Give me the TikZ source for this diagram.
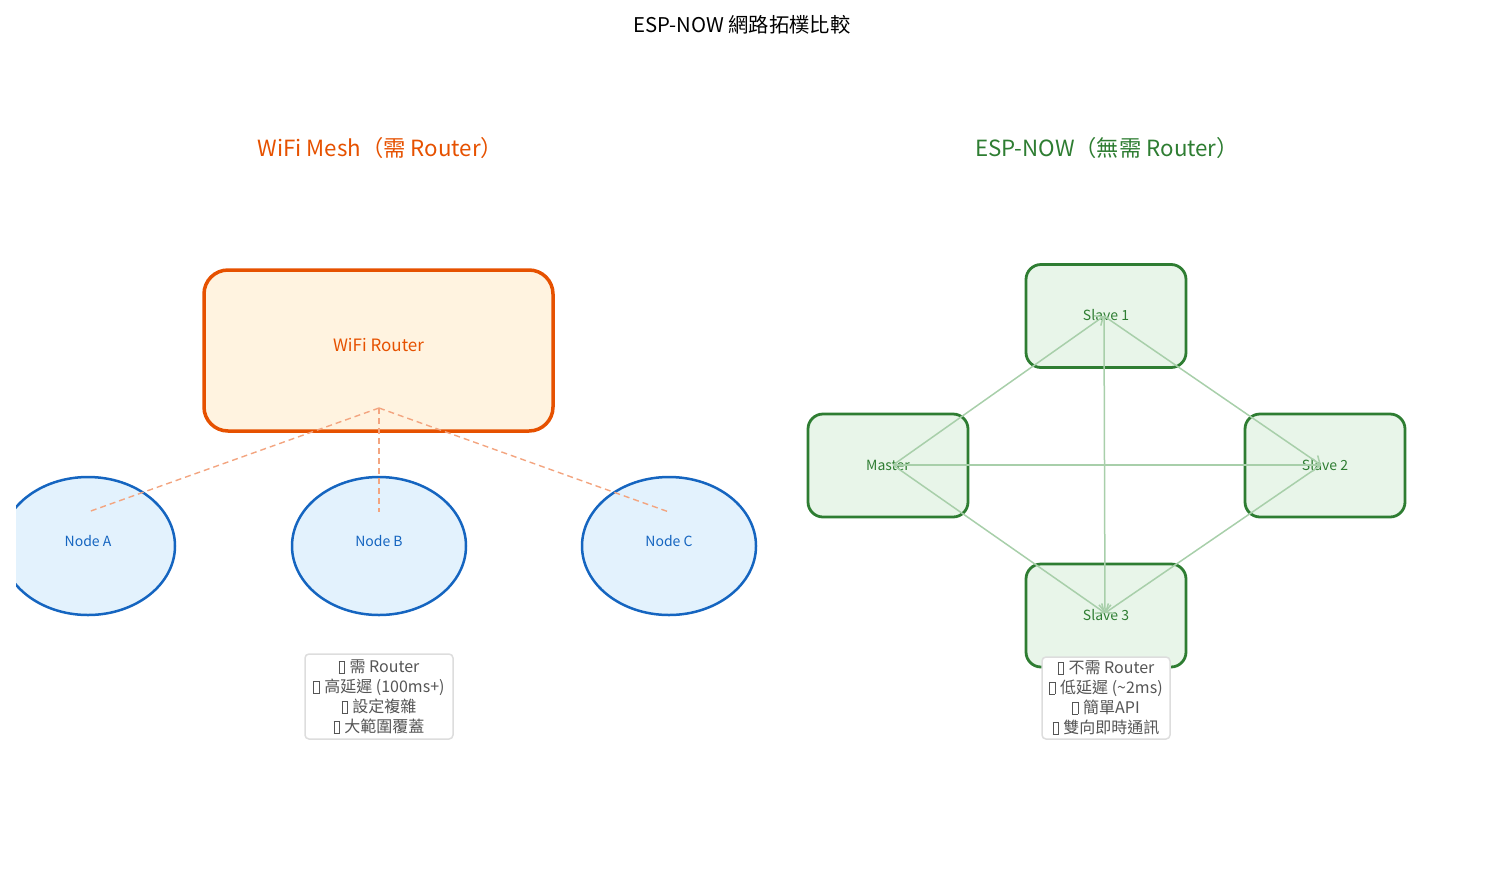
\documentclass[tikz,border=0pt]{standalone}
\usepackage{fontspec}
\setmainfont{Noto Sans CJK TC}
\usetikzlibrary{arrows.meta,shapes.geometric}
\definecolor{orangeD}{HTML}{E65100}
\definecolor{orangeF}{HTML}{FFF3E0}
\definecolor{orangeL}{HTML}{F3A580}
\definecolor{blueD}{HTML}{1565C0}
\definecolor{blueF}{HTML}{E3F2FD}
\definecolor{greenD}{HTML}{2E7D32}
\definecolor{greenF}{HTML}{E8F5E9}
\definecolor{greenL}{HTML}{A8CFAA}
\definecolor{grayT}{HTML}{555555}
\definecolor{grayB}{HTML}{DDDDDD}
\newcommand{\tofu}{{\setlength\fboxsep{0pt}\setlength\fboxrule{0.5pt}\fbox{\rule{0pt}{0.72em}\hspace{0.32em}}}\hspace{0.3em}}
\tikzset{
  routerbox/.style={draw=orangeD, fill=orangeF, line width=3.5pt, rounded corners=24pt},
  nodeell/.style={draw=blueD, fill=blueF, line width=2.5pt, ellipse, inner sep=0pt},
  espbox/.style={draw=greenD, fill=greenF, line width=2.8pt, rounded corners=15pt},
  infobox/.style={draw=grayB, fill=white, line width=1.5pt, rounded corners=4pt},
  txt/.style={font=\fontsize{16}{20}\selectfont, text=grayT, align=center},
  dashlink/.style={draw=orangeL, line width=1.4pt, dash pattern=on 6pt off 4pt},
  esplink/.style={draw=greenL, line width=1.5pt, -{Straight Barb[length=7pt,width=12pt]}},
}
\begin{document}
\begin{tikzpicture}[x=1pt,y=-1pt]
\useasboundingbox (0,0) rectangle (1485,884);
\node (title) at (742,25) {\fontsize{20.3}{24}\selectfont ESP-NOW 網路拓樸比較};
\node[text=orangeD] (lt) at (380.5,148) {\fontsize{22.3}{26}\selectfont WiFi Mesh（需 Router）};
\node[text=greenD] (rt) at (1107,148) {\fontsize{22.3}{26}\selectfont ESP-NOW（無需 Router）};
% left: WiFi mesh
\node[routerbox, minimum width=349pt, minimum height=161pt] (router) at (378.5,350.5) {};
\node[text=orangeD, font=\fontsize{17}{20}\selectfont] (routerlbl) at (378.5,345) {WiFi Router};
\begin{scope}
\clip (16,0) rectangle (1485,884);
\node[nodeell, minimum width=174pt, minimum height=138pt] (na) at (88,546) {};
\end{scope}
\node[nodeell, minimum width=174pt, minimum height=138pt] (nb) at (379,546) {};
\node[nodeell, minimum width=174pt, minimum height=138pt] (nc) at (669,546) {};
\node[text=blueD, font=\fontsize{14}{17}\selectfont] (la) at (88,541) {Node A};
\node[text=blueD, font=\fontsize{14}{17}\selectfont] (lb) at (379,541) {Node B};
\node[text=blueD, font=\fontsize{14}{17}\selectfont] (lc) at (669,541) {Node C};
\coordinate (hub) at (379,408);
\coordinate (pa) at (88,512);
\coordinate (pb) at (379,512);
\coordinate (pc) at (669,512);
\draw[dashlink] (hub) -- (pa);
\draw[dashlink] (hub) -- (pb);
\draw[dashlink] (hub) -- (pc);
\node[infobox, minimum width=148pt, minimum height=85pt] (linfo) at (379,696.5) {};
\node[txt] (linfotxt) at (379,697) {\tofu 需 Router\\\tofu 高延遲 (100ms+)\\\tofu 設定複雜\\\tofu 大範圍覆蓋};
% right: ESP-NOW
\node[espbox, minimum width=160pt, minimum height=103pt] (s1) at (1106,316) {};
\node[espbox, minimum width=160pt, minimum height=103pt] (m) at (888,465.5) {};
\node[espbox, minimum width=160pt, minimum height=103pt] (s2) at (1325,465.5) {};
\node[espbox, minimum width=160pt, minimum height=103pt] (s3) at (1106,615.5) {};
\node[text=greenD, font=\fontsize{14}{17}\selectfont] (ls1) at (1106,315) {Slave 1};
\node[text=greenD, font=\fontsize{14}{17}\selectfont] (lm) at (888,465) {Master};
\node[text=greenD, font=\fontsize{14}{17}\selectfont] (ls2) at (1325,465) {Slave 2};
\node[text=greenD, font=\fontsize{14}{17}\selectfont] (ls3) at (1106,615) {Slave 3};
\coordinate (cm) at (893,465);
\coordinate (c1) at (1104,316);
\coordinate (c2) at (1321,465);
\coordinate (c3) at (1105,613);
\draw[esplink] (cm) -- (c1);
\draw[esplink] (cm) -- (c2);
\draw[esplink] (cm) -- (c3);
\draw[esplink] (c1) -- (c2);
\draw[esplink] (c1) -- (c3);
\draw[esplink] (c2) -- (c3);
\node[infobox, minimum width=128pt, minimum height=82pt] (rinfo) at (1106,698) {};
\node[txt] (rinfotxt) at (1106,698) {\tofu 不需 Router\\\tofu 低延遲 (\textasciitilde2ms)\\\tofu 簡單API\\\tofu 雙向即時通訊};
\end{tikzpicture}
\end{document}
